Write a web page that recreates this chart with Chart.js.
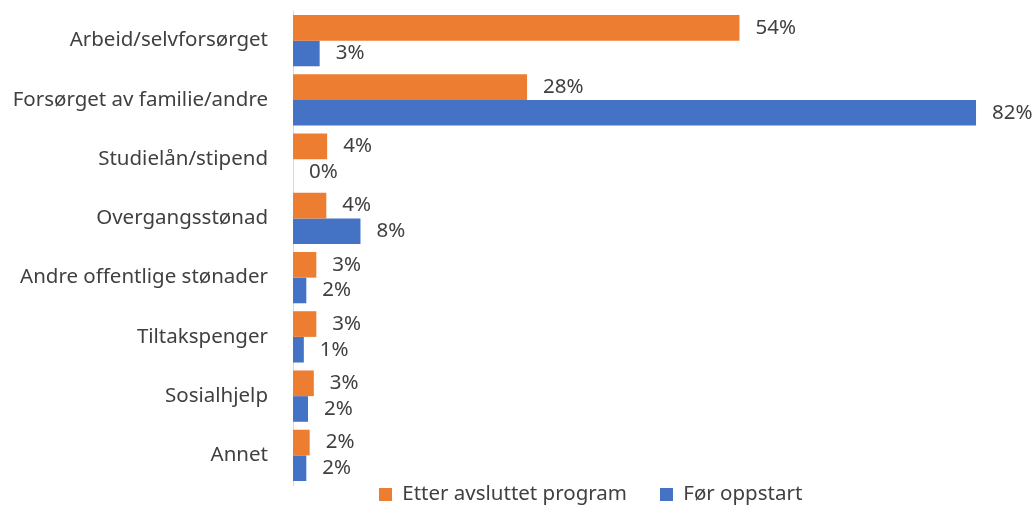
<!DOCTYPE html>
<html>
<head>
<meta charset="utf-8">
<script src="https://cdn.jsdelivr.net/npm/chart.js@4"></script>
<style>
	html, body { margin: 0; padding: 0; background: #fff; }
</style>
</head>
<body>
<canvas id="myChart" width="1035" height="507"></canvas>
<script>
const categories = ['Arbeid/selvforsørget', 'Forsørget av familie/andre', 'Studielån/stipend', 'Overgangsstønad',
	'Andre offentlige stønader', 'Tiltakspenger', 'Sosialhjelp', 'Annet']
const seriesNames = ['Etter avsluttet program', 'Før oppstart']
const etterProgram = [53.6, 28.1, 4.1, 4.0, 2.8, 2.8, 2.5, 2.0]
const forOppstart = [3.2, 82.0, 0, 8.1, 1.6, 1.3, 1.8, 1.6]

const textColor = '#404040'
const fontFamily = '"Noto Sans", sans-serif'
const fontSize = 20.5

// prosent-etiketter til høyre for hver stolpe
const barLabels = {
	id: 'barLabels',
	afterDatasetsDraw(chart) {
		const ctx = chart.ctx
		ctx.save()
		ctx.font = fontSize + 'px ' + fontFamily
		ctx.fillStyle = textColor
		ctx.textAlign = 'left'
		ctx.textBaseline = 'middle'
		chart.data.datasets.forEach((ds, i) => {
			chart.getDatasetMeta(i).data.forEach((bar, j) => {
				ctx.fillText(Math.round(ds.data[j]) + '%', bar.x + 16, bar.y)
			})
		})
		ctx.restore()
	}
}

// flytt legenden litt til høyre, som i originalen
const legendPlace = {
	id: 'legendPlace',
	afterLayout(chart) {
		const lg = chart.legend
		const pad = lg.options.labels.padding
		lg.left = 379 - pad
		lg.right = chart.width
		lg.top = 494.5 - fontSize / 2 - pad
		lg.bottom = chart.height
	}
}

const context = document.getElementById('myChart')
const items = {
	labels: categories,
	datasets: [
		{
			label: seriesNames[0],
			data: etterProgram,
			backgroundColor: '#ED7D31'
		},
		{
			label: seriesNames[1],
			data: forOppstart,
			backgroundColor: '#4472C4'
		}
	]
}
const config = {
	type: 'bar',
	data: items,
	options: {
		indexAxis: 'y',
		responsive: false,
		animation: false,
		devicePixelRatio: 1,
		categoryPercentage: 0.866,
		barPercentage: 1,
		layout: { padding: { top: 11, right: 9, bottom: 0, left: 0 } },
		scales: {
			x: { display: false, min: 0, max: 88 },
			y: {
				afterFit: scale => {
					scale.width = 293
					scale.paddingTop = 0
					scale.paddingBottom = 0
				},
				grid: { display: false, drawTicks: false },
				border: { display: true, color: '#D9D9D9', width: 1 },
				ticks: { padding: 25, color: textColor, font: { family: fontFamily, size: fontSize } }
			}
		},
		plugins: {
			tooltip: { enabled: false },
			legend: {
				position: 'bottom',
				align: 'start',
				maxHeight: 22,
				labels: {
					boxWidth: 13,
					boxHeight: 13,
					padding: 33,
					color: textColor,
					font: { family: fontFamily, size: fontSize }
				}
			}
		}
	},
	plugins: [barLabels, legendPlace]
}
const myChart = new Chart(context, config)
</script>
</body>
</html>
